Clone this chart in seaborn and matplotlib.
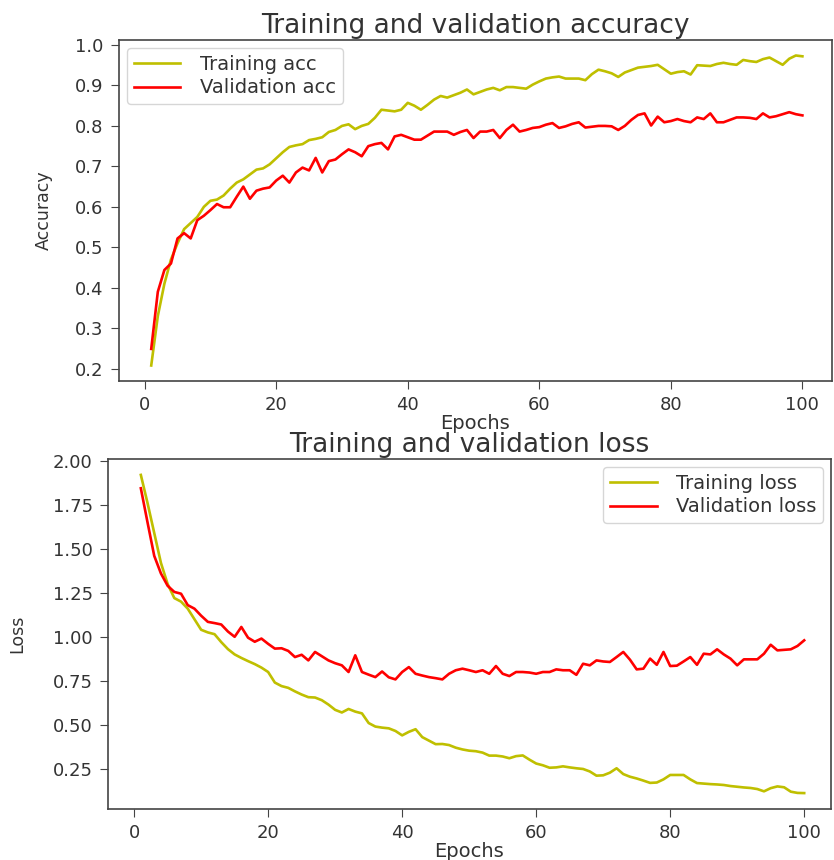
import matplotlib
matplotlib.use("Agg")
import matplotlib.pyplot as plt
import seaborn as sns

epochs = list(range(1, 101))

train_acc = [0.208, 0.33, 0.41, 0.47, 0.51, 0.545, 0.56, 0.575, 0.60, 0.615,
             0.618, 0.628, 0.645, 0.66, 0.668, 0.68, 0.692, 0.695, 0.705, 0.72,
             0.735, 0.748, 0.752, 0.755, 0.765, 0.768, 0.772, 0.785, 0.79, 0.80,
             0.804, 0.792, 0.80, 0.805, 0.82, 0.84, 0.838, 0.836, 0.84, 0.857,
             0.85, 0.84, 0.852, 0.865, 0.874, 0.87, 0.876, 0.882, 0.89, 0.878,
             0.884, 0.89, 0.894, 0.888, 0.896, 0.896, 0.894, 0.892, 0.902, 0.91,
             0.917, 0.92, 0.922, 0.917, 0.917, 0.917, 0.913, 0.928, 0.939, 0.935,
             0.93, 0.921, 0.932, 0.938, 0.944, 0.946, 0.948, 0.951, 0.94, 0.929,
             0.933, 0.935, 0.927, 0.95, 0.949, 0.948, 0.953, 0.956, 0.953, 0.951,
             0.963, 0.96, 0.958, 0.965, 0.969, 0.96, 0.951, 0.966, 0.974, 0.972]

val_acc = [0.249, 0.39, 0.444, 0.46, 0.522, 0.535, 0.522, 0.567, 0.578, 0.592,
           0.607, 0.599, 0.599, 0.625, 0.65, 0.62, 0.64, 0.645, 0.648, 0.665,
           0.677, 0.66, 0.685, 0.697, 0.69, 0.721, 0.685, 0.713, 0.717, 0.73,
           0.742, 0.735, 0.725, 0.75, 0.755, 0.758, 0.742, 0.774, 0.778, 0.772,
           0.766, 0.766, 0.776, 0.786, 0.786, 0.786, 0.778, 0.785, 0.79, 0.77,
           0.786, 0.786, 0.79, 0.77, 0.79, 0.803, 0.786, 0.79, 0.795, 0.797,
           0.803, 0.807, 0.795, 0.799, 0.805, 0.809, 0.796, 0.798, 0.80, 0.80,
           0.799, 0.79, 0.80, 0.815, 0.827, 0.831, 0.801, 0.823, 0.809, 0.812,
           0.817, 0.812, 0.809, 0.821, 0.817, 0.831, 0.809, 0.809, 0.815, 0.821,
           0.821, 0.82, 0.817, 0.831, 0.821, 0.824, 0.829, 0.834, 0.829, 0.826]

train_loss = [1.92, 1.76, 1.59, 1.42, 1.30, 1.22, 1.20, 1.16, 1.10, 1.04,
              1.025, 1.015, 0.97, 0.93, 0.90, 0.88, 0.862, 0.845, 0.825, 0.80,
              0.74, 0.72, 0.71, 0.69, 0.672, 0.657, 0.655, 0.64, 0.615, 0.585,
              0.57, 0.59, 0.575, 0.565, 0.51, 0.49, 0.484, 0.48, 0.465, 0.44,
              0.46, 0.475, 0.43, 0.41, 0.39, 0.391, 0.385, 0.37, 0.36, 0.353,
              0.35, 0.342, 0.325, 0.325, 0.32, 0.31, 0.322, 0.326, 0.302, 0.28,
              0.27, 0.256, 0.258, 0.264, 0.258, 0.253, 0.249, 0.235, 0.211, 0.213,
              0.228, 0.253, 0.22, 0.205, 0.195, 0.183, 0.17, 0.172, 0.19, 0.215,
              0.215, 0.215, 0.19, 0.169, 0.166, 0.163, 0.161, 0.158, 0.152, 0.148,
              0.144, 0.141, 0.135, 0.122, 0.14, 0.15, 0.145, 0.12, 0.113, 0.112]

val_loss = [1.844, 1.65, 1.46, 1.36, 1.29, 1.255, 1.245, 1.18, 1.16, 1.12,
            1.085, 1.078, 1.07, 1.03, 1.0, 1.056, 0.995, 0.972, 0.99, 0.96,
            0.933, 0.935, 0.92, 0.885, 0.898, 0.866, 0.914, 0.89, 0.866, 0.85,
            0.838, 0.80, 0.895, 0.80, 0.785, 0.771, 0.803, 0.77, 0.758, 0.80,
            0.828, 0.79, 0.78, 0.771, 0.765, 0.758, 0.79, 0.81, 0.819, 0.81,
            0.80, 0.81, 0.79, 0.834, 0.79, 0.777, 0.80, 0.80, 0.797, 0.79,
            0.80, 0.80, 0.815, 0.81, 0.81, 0.784, 0.847, 0.838, 0.866, 0.86,
            0.857, 0.885, 0.914, 0.87, 0.815, 0.819, 0.876, 0.841, 0.914, 0.834,
            0.836, 0.86, 0.885, 0.841, 0.904, 0.90, 0.929, 0.90, 0.876, 0.838,
            0.872, 0.872, 0.872, 0.904, 0.955, 0.923, 0.926, 0.929, 0.948, 0.98]

acc_yticks = [0.2, 0.3, 0.4, 0.5, 0.6, 0.7, 0.8, 0.9, 1.0]
loss_yticks = [0.25, 0.50, 0.75, 1.00, 1.25, 1.50, 1.75, 2.00]
xticks = [0, 20, 40, 60, 80, 100]

plt.rcParams['font.family'] = ['DejaVu Sans']
TICK = 13
LAB = 14
YLAB = 12.5
LEG = 14
TITLE = 19
LW = 1.9
TXT = '#333333'

fig = plt.figure(figsize=(8.34, 8.6), dpi=100)
ax1 = fig.add_axes([119 / 834, 1 - 381 / 860, 713 / 834, 341 / 860])
ax2 = fig.add_axes([108 / 834, 1 - 809 / 860, 723 / 834, 350 / 860])

sns.lineplot(x=epochs, y=train_acc, color='y', lw=LW, label='Training acc', ax=ax1)
sns.lineplot(x=epochs, y=val_acc, color='r', lw=LW, label='Validation acc', ax=ax1)
ax1.set_title('Training and validation accuracy', fontsize=TITLE, color=TXT, pad=5)
ax1.set_xlabel('Epochs', fontsize=LAB, color=TXT, labelpad=0)
ax1.set_ylabel('Accuracy', fontsize=YLAB, color=TXT, labelpad=16)
ax1.set_yticks(acc_yticks)
ax1.set_yticklabels([f'{v:.1f}' for v in acc_yticks])
ax1.set_xlim(-3.9, 104.5)
ax1.legend(loc='upper left', fontsize=LEG, handlelength=2.4, labelcolor=TXT,
           labelspacing=0.25, borderpad=0.35, handletextpad=1.0, borderaxespad=0.4)

sns.lineplot(x=epochs, y=train_loss, color='y', lw=LW, label='Training loss', ax=ax2)
sns.lineplot(x=epochs, y=val_loss, color='r', lw=LW, label='Validation loss', ax=ax2)
ax2.set_title('Training and validation loss', fontsize=TITLE, color=TXT, pad=5)
ax2.set_xlabel('Epochs', fontsize=LAB, color=TXT, labelpad=0)
ax2.set_ylabel('Loss', fontsize=YLAB, color=TXT, labelpad=19)
ax2.set_yticks(loss_yticks)
ax2.set_yticklabels([f'{v:.2f}' for v in loss_yticks])
ax2.set_xlim(-3.9, 104.0)
ax2.legend(loc='upper right', fontsize=LEG, handlelength=2.4, labelcolor=TXT,
           labelspacing=0.25, borderpad=0.35, handletextpad=1.0, borderaxespad=0.4)

for ax in (ax1, ax2):
    ax.set_xticks(xticks)
    ax.tick_params(labelsize=TICK, labelcolor=TXT, color='#444444', length=6, pad=5)
    for s in ax.spines.values():
        s.set_color('#444444')
        s.set_linewidth(1.2)

fig.savefig('out.png', dpi=100)
